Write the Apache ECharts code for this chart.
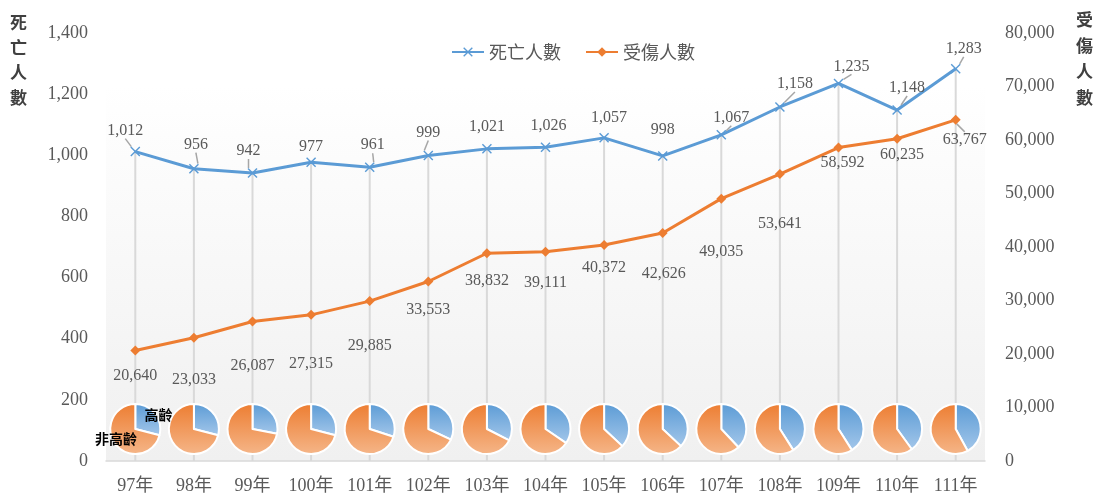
<!DOCTYPE html>
<html>
<head>
<meta charset="utf-8">
<script src="https://cdn.jsdelivr.net/npm/echarts@6/dist/echarts.min.js"></script>
<style>
  html, body { margin: 0; padding: 0; background: #fff; }
  #chart { width: 1099px; height: 495px; }
</style>
</head>
<body>
<div id="chart"></div>
<script>
const years = ['97年', '98年', '99年', '100年', '101年', '102年', '103年', '104年', '105年', '106年', '107年', '108年', '109年', '110年', '111年']
const deaths = [1012, 956, 942, 977, 961, 999, 1021, 1026, 1057, 998, 1067, 1158, 1235, 1148, 1283]
const injuries = [20640, 23033, 26087, 27315, 29885, 33553, 38832, 39111, 40372, 42626, 49035, 53641, 58592, 60235, 63767]
// 高齡 share in each pie
const elderShare = [0.29, 0.29, 0.28, 0.29, 0.30, 0.32, 0.325, 0.345, 0.37, 0.37, 0.38, 0.41, 0.41, 0.40, 0.42]
// label offsets (px from the point)
const deathLabelOff = [[-10, -21], [2, -24], [-4, -22], [0, -16], [3, -22], [0, -23], [0, -22], [3, -22], [5, -20], [0, -26], [10, -17], [15, -23], [13, -17], [10, -22], [8, -20]]
const injLabelOff = [[0, 25], [0, 42], [0, 44], [0, 49], [0, 45], [0, 28], [0, 28], [0, 31], [0, 23], [1, 41], [0, 53], [0, 50], [4, 15], [5, 16], [9, 20]]
// which labels keep a leader line
const deathLeader = [1, 1, 1, 0, 1, 1, 0, 0, 0, 0, 1, 1, 1, 1, 1]
const injLeader = [0, 0, 0, 0, 0, 0, 0, 0, 0, 0, 0, 0, 0, 0, 1]

const numFont = '"Liberation Serif", "Noto Sans CJK TC", serif'
const cjkFont = '"Noto Sans CJK TC", "Liberation Serif", sans-serif'
const fmt = v => v.toLocaleString('en-US')

const chart = echarts.init(document.getElementById('chart'))

const placeLabel = offs => params => {
  const r = params.rect
  const o = offs[params.dataIndex]
  return {
    x: r.x + r.width / 2 + o[0],
    y: r.y + r.height / 2 + o[1],
    align: 'center',
    verticalAlign: 'middle'
  }
}
const withLeader = (vals, flags) => vals.map((v, i) => ({ value: v, labelLine: { show: !!flags[i] } }))

const blueGrad = new echarts.graphic.LinearGradient(0, 0, 0, 1, [
  { offset: 0, color: '#5b9bd5' },
  { offset: 1, color: '#a4c7ea' }
])
const orangeGrad = new echarts.graphic.LinearGradient(0, 0, 0, 1, [
  { offset: 0, color: '#ed7d31' },
  { offset: 1, color: '#f5b689' }
])

const lineSeries = [
  {
    name: 'drop',
    type: 'bar',
    silent: true,
    yAxisIndex: 0,
    barWidth: 2,
    itemStyle: { color: '#d9d9d9' },
    z: 1,
    data: deaths
  },
  {
    name: '死亡人數',
    type: 'line',
    yAxisIndex: 0,
    data: withLeader(deaths, deathLeader),
    z: 10,
    symbol: 'path://M0,1L1,0L5,4L9,0L10,1L6,5L10,9L9,10L5,6L1,10L0,9L4,5Z',
    symbolSize: 10,
    lineStyle: { color: '#5b9bd5', width: 3 },
    itemStyle: { color: '#5b9bd5' },
    label: { show: true, color: '#595959', fontSize: 16, fontFamily: numFont, formatter: p => fmt(p.value) },
    labelLine: { show: true, lineStyle: { color: '#a6a6a6', width: 1.5 } },
    labelLayout: placeLabel(deathLabelOff)
  },
  {
    name: '受傷人數',
    type: 'line',
    yAxisIndex: 1,
    data: withLeader(injuries, injLeader),
    z: 10,
    symbol: 'diamond',
    symbolSize: 10,
    lineStyle: { color: '#ed7d31', width: 3 },
    itemStyle: { color: '#ed7d31' },
    label: { show: true, color: '#595959', fontSize: 16, fontFamily: numFont, formatter: p => fmt(p.value) },
    labelLine: { show: true, lineStyle: { color: '#a6a6a6', width: 1.5 } },
    labelLayout: placeLabel(injLabelOff)
  }
]

const option = {
  animation: false,
  backgroundColor: '#fff',
  textStyle: { fontFamily: numFont },
  legend: {
    data: ['死亡人數', '受傷人數'],
    top: 38,
    left: 446,
    itemWidth: 32,
    itemHeight: 12,
    itemGap: 24,
    textStyle: { fontSize: 18, color: '#595959', fontFamily: cjkFont }
  },
  grid: {
    left: 106,
    right: 114,
    top: 33,
    bottom: 33,
    show: true,
    borderWidth: 0,
    backgroundColor: new echarts.graphic.LinearGradient(0, 0, 0, 1, [
      { offset: 0, color: '#ffffff' },
      { offset: 0.12, color: '#ffffff' },
      { offset: 1, color: '#f0f0f0' }
    ])
  },
  xAxis: {
    type: 'category',
    data: years,
    axisLine: { lineStyle: { color: '#d9d9d9', width: 1.5 } },
    axisTick: { show: false },
    axisLabel: { color: '#595959', fontSize: 18, margin: 16, fontFamily: numFont }
  },
  yAxis: [
    {
      type: 'value',
      min: 0,
      max: 1400,
      interval: 200,
      splitLine: { show: false },
      axisLine: { show: false },
      axisTick: { show: false },
      axisLabel: { color: '#595959', fontSize: 18, margin: 18, formatter: fmt }
    },
    {
      type: 'value',
      min: 0,
      max: 80000,
      interval: 10000,
      splitLine: { show: false },
      axisLine: { show: false },
      axisTick: { show: false },
      axisLabel: { color: '#595959', fontSize: 18, margin: 20, formatter: fmt }
    }
  ],
  graphic: [
    {
      type: 'text',
      left: 10,
      top: 10,
      style: { text: '死\n亡\n人\n數', font: 'bold 17px ' + cjkFont, fill: '#404040', lineHeight: 25 }
    },
    {
      type: 'text',
      left: 1076,
      top: 7,
      style: { text: '受\n傷\n人\n數', font: 'bold 17px ' + cjkFont, fill: '#404040', lineHeight: 26 }
    }
  ],
  series: lineSeries
}

chart.setOption(option)

// put each pie under its year using the category axis
const centers = years.map(y => [chart.convertToPixel({ xAxisIndex: 0 }, y), 429])

const pieSeries = elderShare.map((s, i) => ({
  type: 'pie',
  silent: true,
  radius: 25,
  center: centers[i],
  startAngle: 90,
  clockwise: true,
  z: 5,
  itemStyle: { borderColor: '#fff', borderWidth: 2 },
  label: {
    show: i === 0,
    position: 'inside',
    color: '#000',
    fontWeight: 'bold',
    fontSize: 14,
    fontFamily: cjkFont
  },
  labelLine: { show: false },
  labelLayout: p => (p.dataIndex === 0 ? { dx: 11, dy: -5 } : { dx: -7, dy: 0 }),
  data: [
    { name: '高齡', value: s, itemStyle: { color: blueGrad } },
    { name: '非高齡', value: 1 - s, itemStyle: { color: orangeGrad } }
  ]
}))

chart.setOption({ series: lineSeries.concat(pieSeries) })
</script>
</body>
</html>
